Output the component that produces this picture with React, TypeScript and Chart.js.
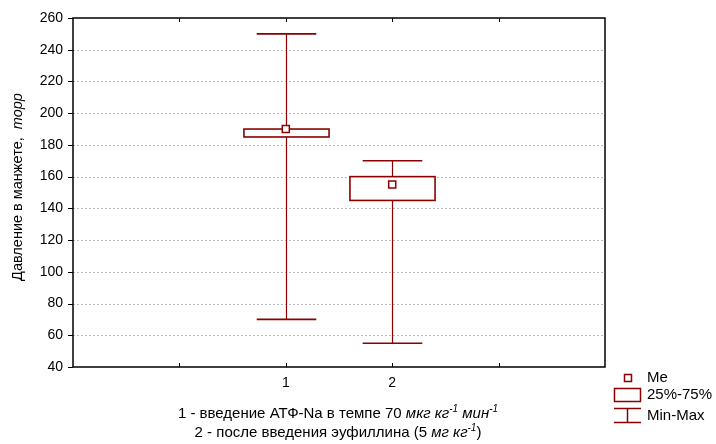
import React, { useEffect, useRef } from "react";
import { Chart, registerables } from "chart.js";

Chart.register(...registerables);

// Box-and-whisker summary per group
const categories = [1, 2];
const minVals = [70, 55];
const q1Vals = [185, 145];
const medianVals = [190, 155];
const q3Vals = [190, 160];
const maxVals = [250, 170];

// Axis settings
const yMin = 40;
const yMax = 260;
const yStep = 20;
const xMin = -1;
const xMax = 4;
const xTickLabels = ["", "", "1", "2", "", ""];

const yTitleMain = "Давление в манжете,  ";
const yTitleUnit = "торр";
const legendLabels = ["Me", "25%-75%", "Min-Max"];

type Seg = { t: string; it?: boolean; sup?: boolean };
const captionLine1: Seg[] = [
  { t: "1 - введение АТФ-Na в темпе 70 " },
  { t: "мкг кг", it: true },
  { t: "-1", it: true, sup: true },
  { t: " мин", it: true },
  { t: "-1", it: true, sup: true },
];
const captionLine2: Seg[] = [
  { t: "2 - после введения эуфиллина (5 " },
  { t: "мг кг", it: true },
  { t: "-1", it: true, sup: true },
  { t: ")" },
];

const RED = "#8b0000";
const FONT = "'Liberation Sans', Arial, sans-serif";

function segFont(s: Seg, size: number) {
  const sz = s.sup ? Math.round(size * 0.65) : size;
  return `${s.it ? "italic " : ""}${sz}px ${FONT}`;
}

function drawSegs(ctx: CanvasRenderingContext2D, segs: Seg[], cx: number, baseY: number, size: number) {
  let total = 0;
  for (const s of segs) {
    ctx.font = segFont(s, size);
    total += ctx.measureText(s.t).width;
  }
  let x = cx - total / 2;
  ctx.textAlign = "left";
  ctx.textBaseline = "alphabetic";
  for (const s of segs) {
    ctx.font = segFont(s, size);
    ctx.fillText(s.t, x, s.sup ? baseY - size * 0.4 : baseY);
    x += ctx.measureText(s.t).width;
  }
}

const boxPlugin = {
  id: "boxWhisker",
  beforeDatasetsDraw(chart: any) {
    const { ctx, chartArea, scales } = chart;
    const xs = scales.x;
    const ys = scales.y;
    ctx.save();
    // dotted horizontal grid lines
    ctx.strokeStyle = "#b8b8b8";
    ctx.lineWidth = 1;
    ctx.setLineDash([2, 2]);
    for (const t of ys.ticks) {
      if (t.value <= yMin || t.value >= yMax) continue;
      const y = Math.round(ys.getPixelForValue(t.value)) + 0.5;
      ctx.beginPath();
      ctx.moveTo(chartArea.left, y);
      ctx.lineTo(chartArea.right, y);
      ctx.stroke();
    }
    ctx.setLineDash([]);

    const unit = xs.getPixelForValue(1) - xs.getPixelForValue(0);
    const boxHalf = unit * 0.4;
    const capHalf = unit * 0.28;
    categories.forEach((c, i) => {
      const cx = Math.round(xs.getPixelForValue(c)) + 0.5;
      const pMin = ys.getPixelForValue(minVals[i]);
      const pMax = ys.getPixelForValue(maxVals[i]);
      const pQ1 = ys.getPixelForValue(q1Vals[i]);
      const pQ3 = ys.getPixelForValue(q3Vals[i]);
      ctx.strokeStyle = RED;
      // whiskers
      ctx.lineWidth = 1.2;
      ctx.beginPath();
      ctx.moveTo(cx, pMax);
      ctx.lineTo(cx, pQ3);
      ctx.moveTo(cx, pQ1);
      ctx.lineTo(cx, pMin);
      ctx.stroke();
      ctx.lineWidth = 1.6;
      ctx.beginPath();
      ctx.moveTo(cx - capHalf, pMax);
      ctx.lineTo(cx + capHalf, pMax);
      ctx.moveTo(cx - capHalf, pMin);
      ctx.lineTo(cx + capHalf, pMin);
      ctx.stroke();
      // quartile box
      ctx.fillStyle = "#ffffff";
      ctx.fillRect(cx - boxHalf, pQ3, boxHalf * 2, pQ1 - pQ3);
      ctx.strokeRect(cx - boxHalf, pQ3, boxHalf * 2, pQ1 - pQ3);
    });
    ctx.restore();
  },
  afterDraw(chart: any) {
    const { ctx, chartArea, scales } = chart;
    const xs = scales.x;
    const ys = scales.y;
    const { left, right, top, bottom } = chartArea;
    ctx.save();
    // frame
    ctx.strokeStyle = "#000";
    ctx.lineWidth = 1.5;
    ctx.strokeRect(left, top, right - left, bottom - top);
    // x ticks pointing inward, top and bottom
    ctx.lineWidth = 1;
    ctx.beginPath();
    for (const t of xs.ticks) {
      if (t.value <= xMin || t.value >= xMax) continue;
      const x = Math.round(xs.getPixelForValue(t.value)) + 0.5;
      ctx.moveTo(x, top);
      ctx.lineTo(x, top + 4);
      ctx.moveTo(x, bottom);
      ctx.lineTo(x, bottom - 4);
    }
    // y ticks pointing outward
    for (const t of ys.ticks) {
      const y = Math.round(ys.getPixelForValue(t.value)) + 0.5;
      ctx.moveTo(left - 5, y);
      ctx.lineTo(left, y);
    }
    ctx.stroke();

    // y axis title
    ctx.fillStyle = "#000";
    ctx.save();
    ctx.translate(22, 187);
    ctx.rotate(-Math.PI / 2);
    drawSegs(ctx, [{ t: yTitleMain }, { t: yTitleUnit, it: true }], 0, 0, 14.5);
    ctx.restore();

    // captions below the axis
    drawSegs(ctx, captionLine1, 338, 418, 15);
    drawSegs(ctx, captionLine2, 338, 437, 15);

    // legend
    ctx.strokeStyle = RED;
    ctx.fillStyle = "#fff";
    ctx.lineWidth = 1.5;
    ctx.fillRect(624.5, 374.5, 7, 7);
    ctx.strokeRect(624.5, 374.5, 7, 7);
    ctx.strokeRect(614.5, 388.5, 26, 13);
    ctx.beginPath();
    ctx.moveTo(614, 408.5);
    ctx.lineTo(641, 408.5);
    ctx.moveTo(627.5, 408.5);
    ctx.lineTo(627.5, 422.5);
    ctx.moveTo(614, 422.5);
    ctx.lineTo(641, 422.5);
    ctx.stroke();
    ctx.fillStyle = "#000";
    ctx.font = `15px ${FONT}`;
    ctx.textAlign = "left";
    ctx.textBaseline = "middle";
    ctx.fillText(legendLabels[0], 647, 378);
    ctx.fillText(legendLabels[1], 647, 395);
    ctx.fillText(legendLabels[2], 647, 416);
    ctx.restore();
  },
};

export default function App() {
  const ref = useRef<HTMLCanvasElement | null>(null);
  useEffect(() => {
    if (!ref.current) return;
    const chart = new Chart(ref.current, {
      type: "scatter",
      data: {
        datasets: [
          {
            label: "Me",
            data: categories.map((c, i) => ({ x: c, y: medianVals[i] })),
            pointStyle: "rect",
            pointRadius: 5,
            pointHoverRadius: 5,
            pointBackgroundColor: "#ffffff",
            pointBorderColor: RED,
            pointBorderWidth: 1.5,
          },
        ],
      },
      options: {
        responsive: false,
        animation: false,
        events: [],
        layout: { padding: { top: 18, right: 111, left: 0, bottom: 0 } },
        plugins: { legend: { display: false }, tooltip: { enabled: false } },
        scales: {
          x: {
            type: "linear",
            min: xMin,
            max: xMax,
            grid: { display: false },
            border: { display: false },
            afterFit: (s: any) => {
              s.height = 77;
            },
            ticks: {
              stepSize: 1,
              padding: 0,
              color: "#000",
              font: { family: FONT, size: 14 },
              maxRotation: 0,
              autoSkip: false,
              callback: (v: any) => xTickLabels[Number(v) - xMin] ?? "",
            },
          },
          y: {
            min: yMin,
            max: yMax,
            grid: { display: false },
            border: { display: false },
            afterFit: (s: any) => {
              s.width = 73;
            },
            ticks: {
              stepSize: yStep,
              padding: 2,
              color: "#000",
              font: { family: FONT, size: 14 },
            },
          },
        },
      },
      plugins: [boxPlugin],
    });
    return () => chart.destroy();
  }, []);
  return (
    <div style={{ position: "fixed", left: 0, top: 0, width: 716, height: 444, background: "#fff" }}>
      <canvas ref={ref} width={716} height={444} />
    </div>
  );
}
